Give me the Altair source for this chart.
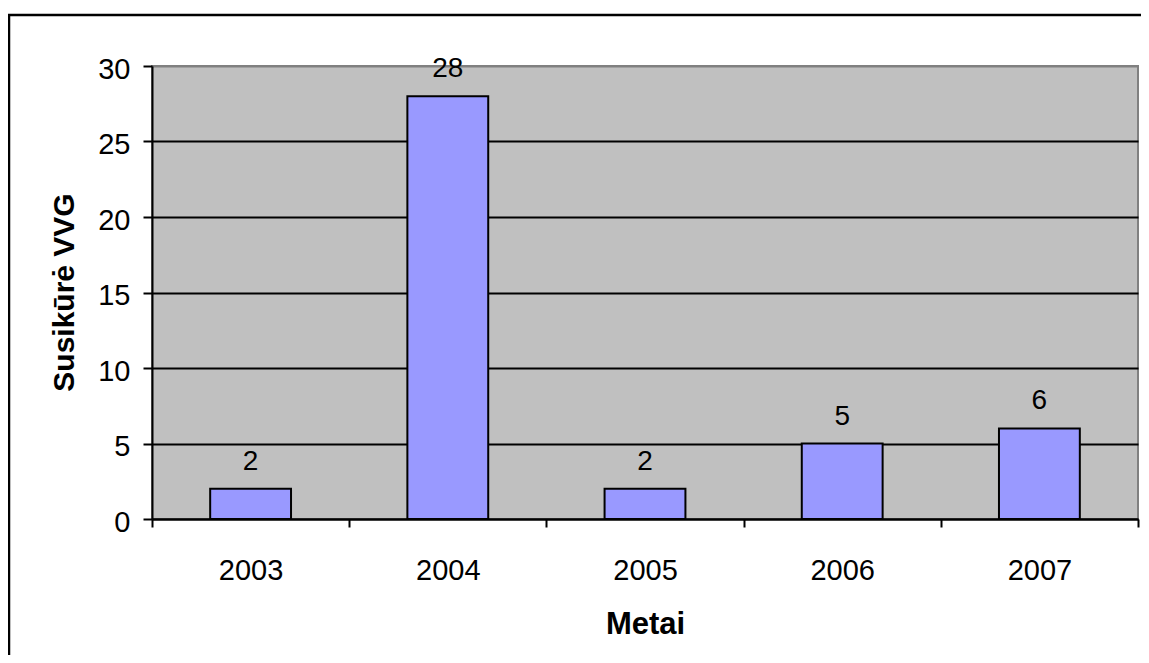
import altair as alt
import pandas as pd

years = ["2003", "2004", "2005", "2006", "2007"]
counts = [2, 28, 2, 5, 6]
y_ticks = [0, 5, 10, 15, 20, 25, 30]

df = pd.DataFrame({"year": years, "count": counts})
FONT = "Liberation Sans"

x_enc = alt.X(
    "year:N",
    sort=years,
    scale=alt.Scale(paddingInner=0, paddingOuter=0),
    axis=alt.Axis(
        title="Metai",
        labelAngle=0,
        labelFont=FONT,
        labelFontSize=29,
        labelColor="black",
        labelBaseline="alphabetic",
        labelPadding=52,
        tickBand="extent",
        tickSize=8,
        tickWidth=2,
        tickColor="black",
        domainColor="black",
        domainWidth=2,
        grid=False,
        titleFont=FONT,
        titleFontSize=31,
        titleFontWeight="bold",
        titleColor="black",
        titleBaseline="alphabetic",
        titleY=114,
    ),
)

y_enc = alt.Y(
    "count:Q",
    scale=alt.Scale(domain=[0, 30], nice=False),
    axis=alt.Axis(
        title="Susikūrė VVG",
        values=y_ticks,
        labelFont=FONT,
        labelFontSize=29,
        labelColor="black",
        labelPadding=13,
        labelOffset=3,
        tickSize=9,
        tickWidth=2,
        tickColor="black",
        domainColor="black",
        domainWidth=2,
        grid=True,
        gridColor={"condition": {"test": "datum.value === 30", "value": "#808080"}, "value": "black"},
        gridWidth=2,
        gridOpacity=1,
        titleFont=FONT,
        titleFontSize=30,
        titleFontWeight="bold",
        titleColor="black",
        titleBaseline="alphabetic",
        titleX=-79,
        titleY=226,
    ),
)

base = alt.Chart(df)
bars = base.mark_bar(
    color="#9999FF", stroke="black", strokeWidth=2, width=alt.RelativeBandSize(0.41)
).encode(x=x_enc, y=y_enc)

labels = base.mark_text(
    baseline="alphabetic", dy=-19, font=FONT, fontSize=28, color="black"
).encode(x=x_enc, y=y_enc, text="count:Q")

one = alt.Chart(pd.DataFrame({"a": [0]}))
top_border = one.mark_rule(color="black", strokeWidth=2.5).encode(
    x=alt.value(-145), x2=alt.value(1010), y=alt.value(-51)
)
left_border = one.mark_rule(color="black", strokeWidth=2.5).encode(
    x=alt.value(-143), y=alt.value(-52), y2=alt.value(700)
)

chart = (
    alt.layer(bars, labels, top_border, left_border)
    .properties(
        width=986,
        height=453,
        padding={"left": 144, "top": 58, "right": 3, "bottom": 136},
        autosize=alt.AutoSizeParams(type="none"),
        background="white",
    )
    .configure_view(fill="#C0C0C0", stroke="#808080", strokeWidth=2)
)

chart.save("out.html", embed_options={"renderer": "svg", "actions": False})
